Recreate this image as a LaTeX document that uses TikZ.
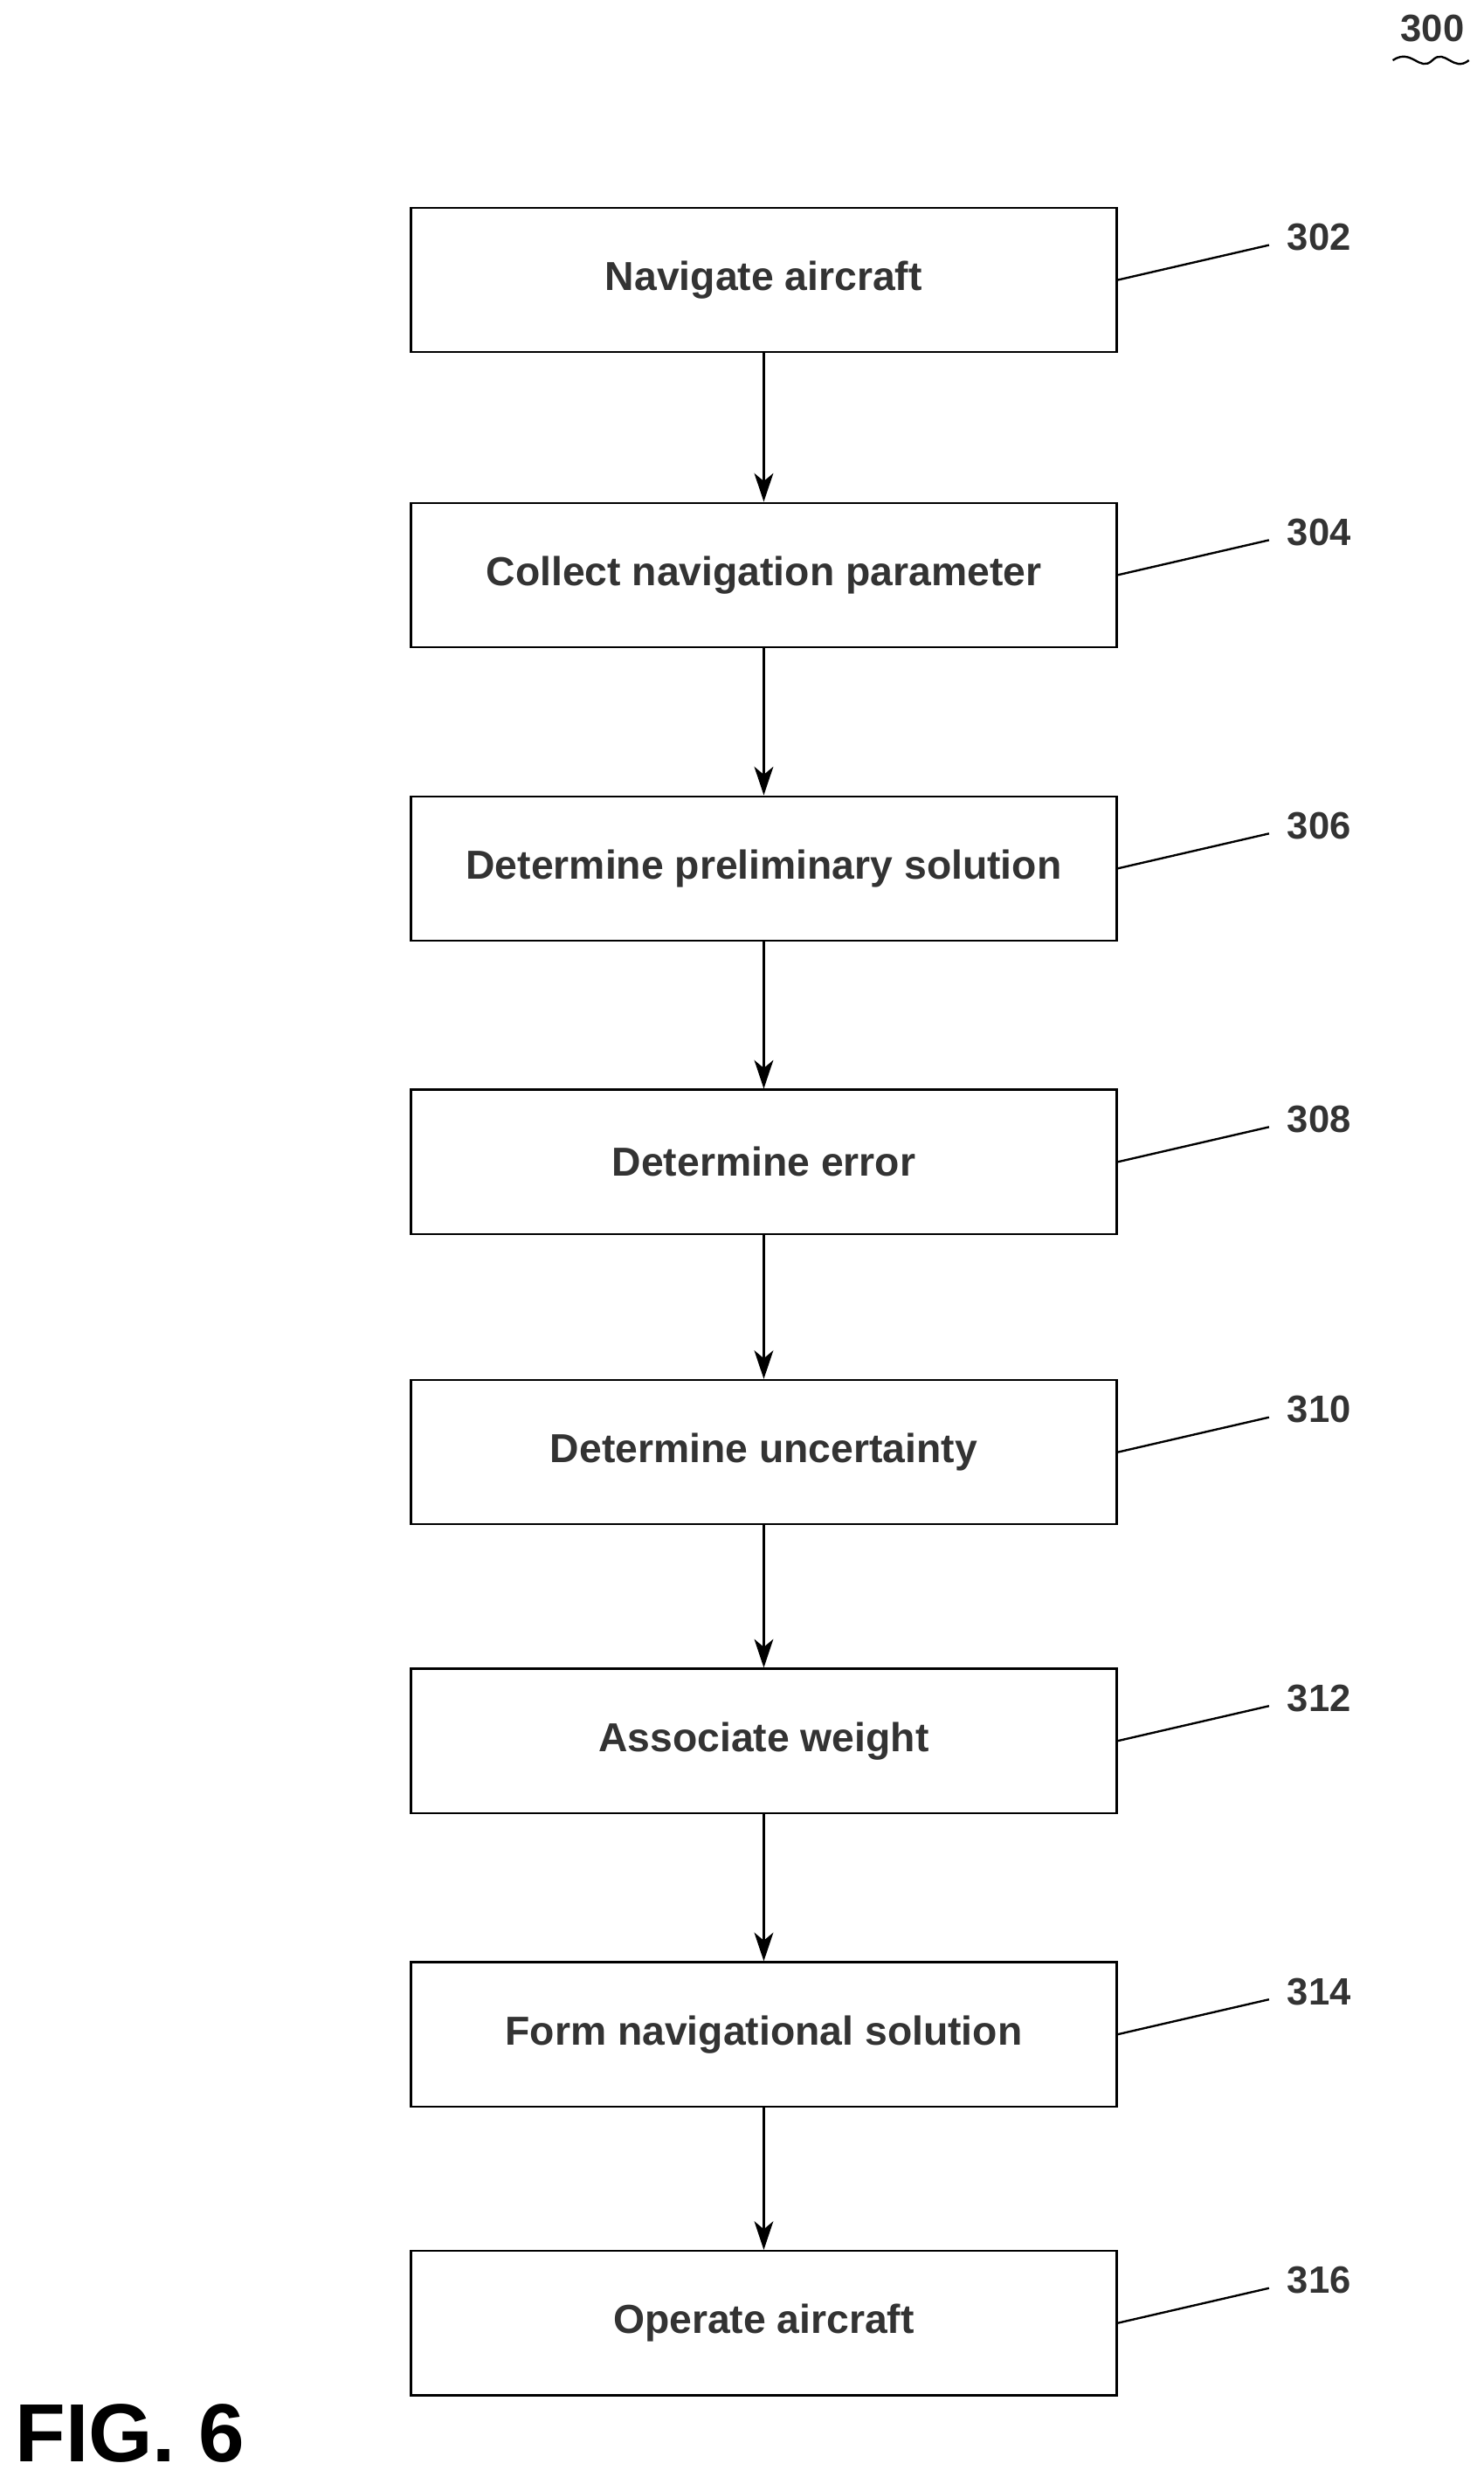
\documentclass[tikz,border=0pt]{standalone}
\usepackage{fontspec}
\setmainfont{Liberation Sans}
\usetikzlibrary{arrows.meta}
\begin{document}
\begin{tikzpicture}[x=1pt,y=-1pt,
 box/.style={draw,line width=1.3pt,minimum width=445pt,minimum height=91pt,font=\fontsize{25.5}{30}\selectfont\bfseries,text=black!80},
 lbl/.style={font=\fontsize{24}{28}\selectfont\bfseries,text=black!80},
 arr/.style={-{Stealth[length=18pt,width=12pt,inset=5pt]},line width=1.3pt},
 lead/.style={line width=1.3pt}]
\useasboundingbox (0,0) rectangle (935,1566);
\foreach \n/\t/\y/\l in {a/Navigate aircraft/176.5/302, b/Collect navigation parameter/362.5/304, c/Determine preliminary solution/547.5/306, d/Determine error/732.5/308, e/Determine uncertainty/915.5/310, f/Associate weight/1097.5/312, g/Form navigational solution/1282.5/314, h/Operate aircraft/1464.5/316}{
 \node[box] (\n) at (481.5,\y) {\t};
 \coordinate (\n e) at (800,\y-22);
 \draw[lead] (\n.east) -- (\n e);
 \node[lbl,anchor=west] (\n l) at (808,\y-27) {\l};
}
\foreach \p/\q in {a/b,b/c,c/d,d/e,e/f,f/g,g/h}{\draw[arr] (\p) -- (\q);}
\node[lbl] (n300) at (903,18) {300};
\draw[lead] (878,38) .. controls (890,30) and (895,46) .. (903,38) .. controls (911,30) and (916,46) .. (926,38);
\node[font=\fontsize{52}{56}\selectfont\bfseries,anchor=west] (fig) at (6,1534) {FIG. 6};
\end{tikzpicture}
\end{document}
